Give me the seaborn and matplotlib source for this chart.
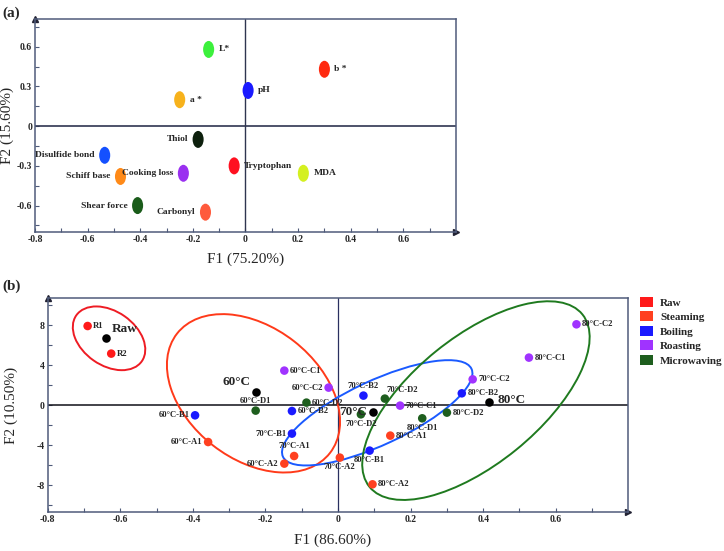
import numpy as np
import pandas as pd
import matplotlib
matplotlib.use("Agg")
import matplotlib.pyplot as plt
import seaborn as sns
from matplotlib.path import Path
from matplotlib.patches import Ellipse, Patch
from matplotlib.transforms import ScaledTranslation

sns.set_style("ticks")
plt.rcParams["font.family"] = ["Liberation Serif", "DejaVu Serif"]

# ---------------- (a) loadings plot ----------------
variables = ["L*", "b *", "pH", "a *", "Thiol", "Disulfide bond", "Tryptophan",
             "MDA", "Cooking loss", "Schiff base", "Shear force", "Carbonyl"]
load_f1 = [-0.14, 0.30, 0.01, -0.25, -0.18, -0.535, -0.043, 0.22, -0.236, -0.475, -0.41, -0.152]
load_f2 = [0.58, 0.43, 0.27, 0.20, -0.10, -0.22, -0.30, -0.356, -0.356, -0.38, -0.60, -0.65]
var_colors = ["#3cf03c", "#ff2a10", "#1a1aff", "#f7b21c", "#0d200d", "#1450ff",
              "#ff1020", "#d4f020", "#9a30f0", "#ff8a18", "#1a5c1a", "#ff5a3c"]
var_side = ["r", "r", "r", "r", "l", "l", "r", "r", "l", "l", "l", "l"]

# ---------------- (b) scores plot ----------------
samples = ["R1", "R2",
           "60°C-A1", "60°C-A2", "60°C-B1", "60°C-B2", "60°C-C1", "60°C-C2", "60°C-D1", "60°C-D2",
           "70°C-A1", "70°C-A2", "70°C-B1", "70°C-B2", "70°C-C1", "70°C-C2", "70°C-D2", "70°C-D2",
           "80°C-A1", "80°C-A2", "80°C-B1", "80°C-B2", "80°C-C1", "80°C-C2", "80°C-D1", "80°C-D2"]
methods = ["Raw", "Raw",
           "Steaming", "Steaming", "Boiling", "Boiling", "Roasting", "Roasting", "Microwaving", "Microwaving",
           "Steaming", "Steaming", "Boiling", "Boiling", "Roasting", "Roasting", "Microwaving", "Microwaving",
           "Steaming", "Steaming", "Boiling", "Boiling", "Roasting", "Roasting", "Microwaving", "Microwaving"]
score_f1 = [-0.69, -0.625,
            -0.358, -0.148, -0.394, -0.127, -0.148, -0.026, -0.227, -0.087,
            -0.121, 0.005, -0.127, 0.07, 0.171, 0.371, 0.129, 0.063,
            0.144, 0.095, 0.087, 0.341, 0.526, 0.657, 0.232, 0.30]
score_f2 = [7.93, 5.17,
            -3.67, -5.83, -1.0, -0.57, 3.47, 1.77, -0.53, 0.27,
            -5.07, -5.23, -2.83, 0.97, -0.03, 2.6, 0.67, -0.9,
            -3.03, -7.9, -4.53, 1.2, 4.77, 8.1, -1.3, -0.73]
score_side = ["r", "r",
              "l", "l", "l", "r", "r", "l", "a", "r",
              "a", "b", "l", "a", "r", "r", "ar", "b",
              "r", "r", "b", "r", "r", "r", "b", "r"]

groups = ["Raw", "60°C", "70°C", "80°C"]
group_f1 = [-0.64, -0.227, 0.097, 0.416]
group_f2 = [6.77, 1.3, -0.67, 0.37]
group_side = ["ur", "ul", "l", "rr"]

# confidence ellipses: centre (F1, F2), axes in pixels, angle in degrees
ell_f1 = [-0.631, -0.233, 0.108, 0.380]
ell_f2 = [6.7, 1.2, -0.75, 0.47]
ell_w = [80, 194, 208, 274]
ell_h = [54, 132, 64, 127]
ell_ang = [-35, -38, 25, 39]
ell_colors = ["#ee1c24", "#ff3a1a", "#1a5aff", "#1f7a1f"]

method_order = ["Raw", "Steaming", "Boiling", "Roasting", "Microwaving"]
method_colors = ["#ff1a1a", "#ff4020", "#1a1aff", "#a033ff", "#1e5e1e"]

x_ticks = [-0.8, -0.6, -0.4, -0.2, 0, 0.2, 0.4, 0.6]
x_labels = ["-0.8", "-0.6", "-0.4", "-0.2", "0", "0.2", "0.4", "0.6"]
ya_ticks = [-0.6, -0.3, 0, 0.3, 0.6]
ya_labels = ["-0.6", "-0.3", "0", "0.3", "0.6"]
yb_ticks = [-8, -4, 0, 4, 8]
yb_labels = ["-8", "-4", "0", "4", "8"]

SPINE = "#4f5b7a"
OFFS = {"r": ((4, 0), "left", "center"), "l": ((-4, 0), "right", "center"),
        "a": ((0, 4), "center", "bottom"), "b": ((0, -4), "center", "top"),
        "ar": ((1, 3), "left", "bottom"), "ur": ((4, 2), "left", "bottom"),
        "ul": ((-4, 3), "right", "bottom"), "rr": ((6, 1), "left", "center")}

fig = plt.figure(figsize=(7.24, 5.51), dpi=100)
ax_a = fig.add_axes([0.0483, 0.5789, 0.5815, 0.3866])
ax_b = fig.add_axes([0.0659, 0.0702, 0.802, 0.3884])


def style_axes(ax, yticks, ylabels, ylim, yminor):
    ax.set_xlim(-0.8, 0.8)
    ax.set_ylim(*ylim)
    ax.set_xticks(x_ticks)
    ax.set_xticklabels(x_labels)
    ax.set_yticks(yticks)
    ax.set_yticklabels(ylabels)
    ax.set_xticks(np.arange(-0.7, 0.8, 0.2), minor=True)
    ax.set_yticks(yminor, minor=True)
    ax.tick_params(which="both", direction="in", length=3, width=0.8, color=SPINE,
                   labelsize=7, pad=2)
    for lab in ax.get_xticklabels() + ax.get_yticklabels():
        lab.set_fontweight("bold")
    for sp in ax.spines.values():
        sp.set_color(SPINE)
        sp.set_linewidth(1.1)
    ax.plot(0, 1, marker="^", ms=4, color="#222233", transform=ax.transAxes, clip_on=False)
    ax.plot(1, 0, marker=">", ms=4, color="#222233", transform=ax.transAxes, clip_on=False)
    ax.set_xlabel("")
    ax.set_ylabel("")


# ---- panel (a) ----
circ = Path.unit_circle()
ell_marker = Path(circ.vertices * np.array([0.65, 1.0]), circ.codes)
df_a = pd.DataFrame({"F1": load_f1, "F2": load_f2, "var": variables})
ax_a.axhline(0, color="#2f3550", lw=1.2, zorder=1)
ax_a.axvline(0, color="#2f3550", lw=1.0, zorder=1)
sns.scatterplot(data=df_a, x="F1", y="F2", hue="var", palette=dict(zip(variables, var_colors)),
                marker=ell_marker, s=150, linewidth=0, legend=False, ax=ax_a, zorder=3)
for v, x, y, side in zip(variables, load_f1, load_f2, var_side):
    off, ha, va = OFFS[side]
    off = (off[0] * 1.8, off[1])
    ax_a.annotate(v, (x, y), xytext=off, textcoords="offset points", ha=ha, va=va,
                  fontsize=6.8, fontweight="bold")
style_axes(ax_a, ya_ticks, ya_labels, (-0.8, 0.81), np.arange(-0.75, 0.8, 0.15))
ax_a.set_xlabel("F1 (75.20%)", fontsize=11)
ax_a.xaxis.set_label_coords(0.5, -0.097)
ax_a.set_ylabel("F2 (15.60%)", fontsize=11)
ax_a.yaxis.set_label_coords(-0.05, 0.5)

# ---- panel (b) ----
df_b = pd.DataFrame({"F1": score_f1, "F2": score_f2, "method": methods})
ax_b.axhline(0, color="#101018", lw=1.1, zorder=1)
ax_b.axvline(0, color="#2a3060", lw=0.9, zorder=1)
for cx, cy, w, h, ang, c in zip(ell_f1, ell_f2, ell_w, ell_h, ell_ang, ell_colors):
    tr = fig.dpi_scale_trans + ScaledTranslation(cx, cy, ax_b.transData)
    ax_b.add_patch(Ellipse((0, 0), w / 100, h / 100, angle=ang, transform=tr,
                           fill=False, edgecolor=c, lw=1.4, zorder=2))
sns.scatterplot(data=df_b, x="F1", y="F2", hue="method", hue_order=method_order,
                palette=dict(zip(method_order, method_colors)), s=38, linewidth=0,
                legend=False, ax=ax_b, zorder=3)
sns.scatterplot(x=group_f1, y=group_f2, color="black", s=38, linewidth=0, ax=ax_b, zorder=3)
for name, x, y, side in zip(samples, score_f1, score_f2, score_side):
    off, ha, va = OFFS[side]
    ax_b.annotate(name, (x, y), xytext=off, textcoords="offset points", ha=ha, va=va,
                  fontsize=6.2, fontweight="bold")
for name, x, y, side in zip(groups, group_f1, group_f2, group_side):
    off, ha, va = OFFS[side]
    ax_b.annotate(name, (x, y), xytext=off, textcoords="offset points", ha=ha, va=va,
                  fontsize=9.5, fontweight="bold")
style_axes(ax_b, yb_ticks, yb_labels, (-10.7, 10.7), np.arange(-10, 11, 2))
ax_b.set_xlabel("F1 (86.60%)", fontsize=11)
ax_b.xaxis.set_label_coords(0.491, -0.1)
ax_b.set_ylabel("F2 (10.50%)", fontsize=11)
ax_b.yaxis.set_label_coords(-0.052, 0.5)

handles = [Patch(facecolor=c, edgecolor="none", label=m) for m, c in zip(method_order, method_colors)]
fig.legend(handles=handles, loc="upper left", bbox_to_anchor=(0.884, 0.461), frameon=False,
           prop={"weight": "bold", "size": 8}, handlelength=1.2, handleheight=1.0,
           handletextpad=0.6, labelspacing=0.33, borderaxespad=0, borderpad=0)

fig.text(0.003, 0.988, "(a)", fontsize=11, fontweight="bold", va="top")
fig.text(0.003, 0.492, "(b)", fontsize=11, fontweight="bold", va="top")

fig.savefig("out.png", dpi=100)
